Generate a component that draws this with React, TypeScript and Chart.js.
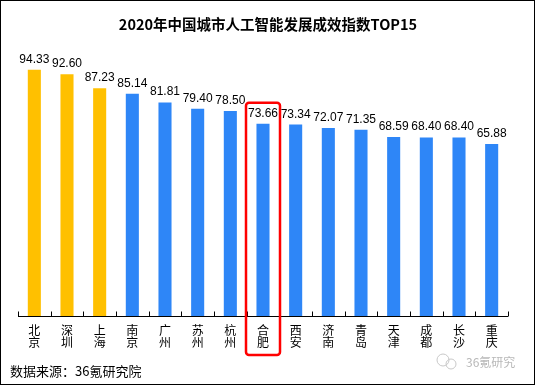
import React, { useEffect, useRef } from "react";
import { Chart, registerables } from "chart.js";

Chart.register(...registerables);

const TITLE = "2020年中国城市人工智能发展成效指数TOP15";
const SOURCE = "数据来源：36氪研究院";
const WATERMARK = "36氪研究";
const cities: string[][] = [
  ["北", "京"], ["深", "圳"], ["上", "海"], ["南", "京"], ["广", "州"],
  ["苏", "州"], ["杭", "州"], ["合", "肥"], ["西", "安"], ["济", "南"],
  ["青", "岛"], ["天", "津"], ["成", "都"], ["长", "沙"], ["重", "庆"],
];
const values: number[] = [94.33, 92.6, 87.23, 85.14, 81.81, 79.4, 78.5, 73.66, 73.34, 72.07, 71.35, 68.59, 68.4, 68.4, 65.88];
const highlightIndex = 7;
const GOLD = "#FFC000";
const BLUE = "#2E86F7";
const barColors = values.map((_, i) => (i < 3 ? GOLD : BLUE));

const CJK = '"Noto Sans CJK SC", "Microsoft YaHei", sans-serif';
const NUM = '"Liberation Sans", Arial, sans-serif';

const decor = {
  id: "decor",
  afterDraw(chart: any) {
    const ctx = chart.ctx;
    const xs = chart.scales.x;
    const ys = chart.scales.y;
    const area = chart.chartArea;
    ctx.save();
    // border
    ctx.strokeStyle = "#000";
    ctx.lineWidth = 1;
    ctx.strokeRect(0.5, 0.5, 534, 384);
    // title
    ctx.fillStyle = "#000";
    ctx.font = `bold 14.5px ${CJK}`;
    ctx.textAlign = "center";
    ctx.textBaseline = "middle";
    ctx.fillText(TITLE, 268, 24);
    // axis line & ticks
    const yAxis = Math.round(area.bottom) + 0.5;
    ctx.beginPath();
    ctx.moveTo(area.left, yAxis);
    ctx.lineTo(area.right, yAxis);
    const n = values.length;
    const step = (area.right - area.left) / n;
    for (let i = 0; i <= n; i++) {
      const x = Math.round(area.left + step * i) + 0.5;
      ctx.moveTo(x, yAxis);
      ctx.lineTo(x, yAxis - 5);
    }
    ctx.stroke();
    // data labels
    ctx.font = `12px ${NUM}`;
    ctx.textBaseline = "alphabetic";
    ctx.fillStyle = "#000";
    values.forEach((v, i) => {
      const x = xs.getPixelForValue(i);
      const y = ys.getPixelForValue(v);
      ctx.fillText(v.toFixed(2), x, y - 7);
    });
    // highlight box
    const hx = xs.getPixelForValue(highlightIndex);
    const hw = 34;
    const top = ys.getPixelForValue(values[highlightIndex]) - 21;
    const bottom = 355;
    ctx.strokeStyle = "#FF0000";
    ctx.lineWidth = 2.5;
    const r = 3;
    const lx = hx - hw / 2;
    ctx.beginPath();
    ctx.roundRect(lx, top, hw, bottom - top, r);
    ctx.stroke();
    // source
    ctx.fillStyle = "#000";
    ctx.font = `13px ${CJK}`;
    ctx.textAlign = "left";
    ctx.textBaseline = "middle";
    ctx.fillText(SOURCE, 10, 371);
    // watermark
    ctx.fillStyle = "#b8b8b8";
    ctx.font = `12px ${CJK}`;
    ctx.fillText(WATERMARK, 466, 362);
    ctx.strokeStyle = "#c8c8c8";
    ctx.lineWidth = 1;
    ctx.beginPath();
    ctx.arc(443, 360, 6, 0, Math.PI * 2);
    ctx.stroke();
    ctx.beginPath();
    ctx.arc(451, 364, 5, 0, Math.PI * 2);
    ctx.stroke();
    ctx.restore();
  },
};

export default function App() {
  const ref = useRef<HTMLCanvasElement | null>(null);
  useEffect(() => {
    document.body.style.margin = "0";
    const canvas = ref.current!;
    const chart = new Chart(canvas, {
      type: "bar",
      data: {
        labels: cities,
        datasets: [
          {
            data: values,
            backgroundColor: barColors,
            barPercentage: 0.4,
            categoryPercentage: 1,
          },
        ],
      },
      options: {
        responsive: false,
        animation: false,
        devicePixelRatio: 1,
        layout: { padding: { left: 18, right: 27, top: 55, bottom: 0 } },
        plugins: { legend: { display: false }, tooltip: { enabled: false }, title: { display: false } },
        scales: {
          x: {
            offset: true,
            grid: { display: false, drawTicks: false },
            border: { display: false },
            ticks: {
              color: "#000",
              padding: 9,
              maxRotation: 0,
              autoSkip: false,
              font: { size: 12, family: CJK, lineHeight: 0.95 },
            },
            afterFit: (scale: any) => {
              scale.height = 69;
            },
          },
          y: {
            display: false,
            min: 0,
            max: 100,
          },
        },
      },
      plugins: [decor],
    });
    return () => chart.destroy();
  }, []);
  return (
    <div style={{ width: 535, height: 385, background: "#fff" }}>
      <canvas ref={ref} width={535} height={385} style={{ display: "block" }} />
    </div>
  );
}
